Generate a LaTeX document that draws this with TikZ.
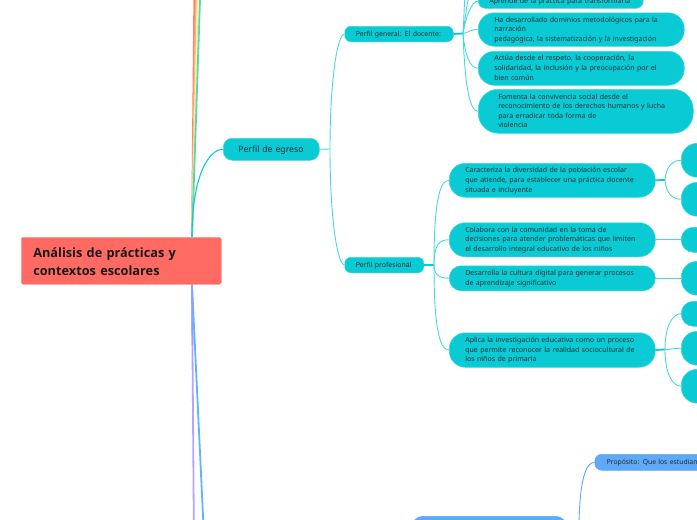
\documentclass[tikz,border=0pt]{standalone}
\usepackage{fontspec}
\setmainfont{Noto Sans}
\newfontfamily\rootfont{Open Sans}
\definecolor{tealfill}{HTML}{0ACBD3}
\definecolor{tealedge}{HTML}{3DD8DE}
\definecolor{bluefill}{HTML}{5FA9F6}
\definecolor{rootfill}{HTML}{FF6B63}
\definecolor{inktext}{HTML}{17323A}
\definecolor{trred}{HTML}{FF7F78}
\definecolor{trorange}{HTML}{FFB27D}
\definecolor{tryellow}{HTML}{FFEE9A}
\definecolor{trgreen}{HTML}{55D8AE}
\definecolor{trperi}{HTML}{8FA2FF}
\definecolor{trpurple}{HTML}{B5A5FF}
\definecolor{trblue}{HTML}{5FB4FF}
\tikzset{
  box/.style={rectangle,anchor=north west,inner ysep=0pt,align=left,text=inktext,font=\fontsize{7.05}{9.6}\selectfont,line width=.5pt,execute at begin node={\rule{0pt}{7pt}},execute at end node={\rule[-2.6pt]{0pt}{1pt}}},
  tealbox/.style={box,fill=tealfill,draw=tealedge},
  bluebox/.style={box,fill=bluefill,draw=bluefill},
  tlink/.style={draw=tealfill!75!white,line width=.9pt},
  tstub/.style={draw=tealfill,line width=1.8pt},
  blink/.style={draw=bluefill,line width=.9pt},
  trunk/.style={line width=1.8pt}
}
\begin{document}
\begin{tikzpicture}[x=1pt,y=-1pt]
\useasboundingbox (0,0) rectangle (697,520);
% off-page ends and hubs
\coordinate (offred) at (194.3,0);
\coordinate (offorange) at (196,0);
\coordinate (offyellow) at (197.7,0);
\coordinate (offgreen) at (200,0);
\coordinate (offpurple) at (193.8,520);
\coordinate (offblue) at (203.2,520);
\coordinate (peri) at (192.5,345);
\coordinate (rootup) at (192,237);
\coordinate (rootdown) at (192,284);
\coordinate (hubeg) at (330,149);
\coordinate (hubgen) at (463,33.5);
\coordinate (offa) at (465,-2);
\coordinate (offb) at (468.5,-2);
\coordinate (aprin) at (478,1);
\coordinate (hubpro) at (434,265);
\coordinate (hubcar) at (665,180);
\coordinate (hubapl) at (665,349.5);
\coordinate (hubblue) at (579,531);
% nodes
\node[box,fill=rootfill,draw=rootfill!70!white,rounded corners=2pt,minimum width=200pt,minimum height=47pt,text width=176pt,inner xsep=12pt,font=\rootfont\fontsize{12.75}{17.8}\selectfont\bfseries,text=black!90,execute at begin node={\rule{0pt}{14pt}},execute at end node={\rule[-3pt]{0pt}{1pt}}] (root) at (21,237) {Análisis de prácticas y\\contextos escolares};
\node[tealbox,rounded corners=9pt,minimum width=96pt,minimum height=22pt,text width=66pt,inner xsep=15pt,font=\fontsize{8.7}{11}\selectfont,execute at begin node={\rule{0pt}{9pt}}] (egreso) at (223,138) {Perfil de egreso};
\node[tealbox,rounded corners=6pt,minimum width=108.5pt,minimum height=15.5pt,text width=86.5pt,inner xsep=11pt,font=\fontsize{6.9}{9}\selectfont] (general) at (344.5,26) {Perfil general: El docente:};
\node[tealbox,rounded corners=6pt,minimum width=79pt,minimum height=15.5pt,text width=57pt,inner xsep=11pt,font=\fontsize{6.9}{9}\selectfont] (profesional) at (344.5,257) {Perfil profesional};

\node[tealbox,rounded corners=7pt,minimum width=165pt,minimum height=14pt,text width=143pt,inner xsep=11pt] (aprende) at (478,-6) {Aprende de la práctica para transformarla};
\node[tealbox,rounded corners=16pt,minimum width=206pt,minimum height=33.5pt,text width=174pt,inner xsep=16pt] (ha) at (478,12.5) {Ha desarrollado dominios metodológicos para la\\narración\\pedagógica, la sistematización y la investigación};
\node[tealbox,rounded corners=16pt,minimum width=206pt,minimum height=34pt,text width=174pt,inner xsep=16pt] (actua) at (478,51) {Actúa desde el respeto, la cooperación, la\\solidaridad, la inclusión y la preocupación por el\\bien común};
\node[tealbox,rounded corners=20pt,minimum width=215pt,minimum height=44pt,text width=175pt,inner xsep=20pt] (fomenta) at (478,89) {Fomenta la convivencia social desde el\\reconocimiento de los derechos humanos y lucha\\para erradicar toda forma de\\violencia};

\node[tealbox,rounded corners=16pt,minimum width=206pt,minimum height=34pt,text width=174pt,inner xsep=16pt] (caracteriza) at (449,163) {Caracteriza la diversidad de la población escolar\\que atiende, para establecer una práctica docente\\situada e incluyente};
\node[tealbox,rounded corners=16pt,minimum width=206pt,minimum height=34pt,text width=174pt,inner xsep=16pt] (colabora) at (449,222.5) {Colabora con la comunidad en la toma de\\decisiones para atender problemáticas que limiten\\el desarrollo integral educativo de los niños};
\node[tealbox,rounded corners=12pt,minimum width=206pt,minimum height=25pt,text width=174pt,inner xsep=16pt] (desarrolla) at (449,265.5) {Desarrolla la cultura digital para generar procesos\\de aprendizaje significativo};
\node[tealbox,rounded corners=16pt,minimum width=206pt,minimum height=34.5pt,text width=174pt,inner xsep=16pt] (aplica) at (449,332.5) {Aplica la investigación educativa como un proceso\\que permite reconocer la realidad sociocultural de\\los niños de primaria};

\node[tealbox,rounded corners=16pt,minimum width=40pt,minimum height=34pt] (r1) at (681,143) {};
\node[tealbox,rounded corners=16pt,minimum width=40pt,minimum height=34pt] (r2) at (681,182) {};
\node[tealbox,rounded corners=12pt,minimum width=40pt,minimum height=25pt] (r3) at (681,227) {};
\node[tealbox,rounded corners=16pt,minimum width=40pt,minimum height=34pt] (r4) at (681,261) {};
\node[tealbox,rounded corners=12pt,minimum width=40pt,minimum height=25pt] (r5) at (681,301) {};
\node[tealbox,rounded corners=16pt,minimum width=40pt,minimum height=34pt] (r6) at (681,331) {};
\node[tealbox,rounded corners=16pt,minimum width=40pt,minimum height=34pt] (r7) at (681,369) {};

\node[bluebox,rounded corners=7pt,minimum width=160pt,minimum height=16pt,text width=136pt,inner xsep=12pt,font=\fontsize{6.8}{9}\selectfont] (proposito) at (594.5,454) {Propósito: Que los estudian};
\node[bluebox,rounded corners=12pt,minimum width=156pt,minimum height=30pt] (blue) at (411,516) {};

% connectors
\draw[trunk,draw=trred] (rootup) -- (offred);
\draw[trunk,draw=trorange] (rootup) -- (offorange);
\draw[trunk,draw=tryellow] (rootup) -- (offyellow);
\draw[trunk,draw=trgreen] (rootup) -- (offgreen);
\draw[trunk,draw=trpurple] (rootdown) -- (offpurple);
\draw[trunk,draw=trblue] (rootdown) -- (offblue);
\draw[trunk,draw=trperi] (rootdown) -- (peri);
\draw[tlink,draw=tealfill,line width=1.1pt] (rootup) .. controls +(0,-62) and +(-14,0) .. (egreso.west);
\draw[tlink] (egreso.east) -- (hubeg);
\draw[tlink] (hubeg) .. controls +(0,-70) and +(-7,0) .. (general.west);
\draw[tlink] (hubeg) .. controls +(0,70) and +(-7,0) .. (profesional.west);
\draw[tstub] (general.east) -- (hubgen);
\draw[tlink] (hubgen) .. controls +(3,-18) and +(-6,0) .. (aprin);
\draw[tlink] (hubgen) .. controls +(1,-12) and +(-1,6) .. (offa);
\draw[tlink] (hubgen) .. controls +(2,-14) and +(-2,8) .. (offb);
\draw[tlink] (hubgen) .. controls +(8,-2) and +(-8,0) .. (ha.west);
\draw[tlink] (hubgen) .. controls +(2,22) and +(-8,0) .. (actua.west);
\draw[tlink] (hubgen) .. controls +(2,55) and +(-8,0) .. (fomenta.west);
\draw[tstub] (profesional.east) -- (hubpro);
\draw[tlink] (hubpro) .. controls +(0,-60) and +(-10,0) .. (caracteriza.west);
\draw[tlink] (hubpro) .. controls +(0,-20) and +(-10,0) .. (colabora.west);
\draw[tlink] (hubpro) .. controls +(0,10) and +(-10,0) .. (desarrolla.west);
\draw[tlink] (hubpro) .. controls +(0,60) and +(-10,0) .. (aplica.west);
\draw[tstub] (caracteriza.east) -- (hubcar);
\draw[tlink] (hubcar) .. controls +(1,-14) and +(-8,0) .. (r1.west);
\draw[tlink] (hubcar) .. controls +(1,14) and +(-8,0) .. (r2.west);
\draw[tlink] (colabora.east) -- (r3.west);
\draw[tlink] (desarrolla.east) -- (r4.west);
\draw[tstub] (aplica.east) -- (hubapl);
\draw[tlink] (hubapl) .. controls +(0,-25) and +(-8,0) .. (r5.west);
\draw[tlink] (hubapl) .. controls +(6,0) and +(-8,0) .. (r6.west);
\draw[tlink] (hubapl) .. controls +(0,25) and +(-8,0) .. (r7.west);
\draw[blink] (blue.east) -- (hubblue);
\draw[blink] (hubblue) .. controls +(0,-45) and +(-10,0) .. (proposito.west);
\end{tikzpicture}
\end{document}
